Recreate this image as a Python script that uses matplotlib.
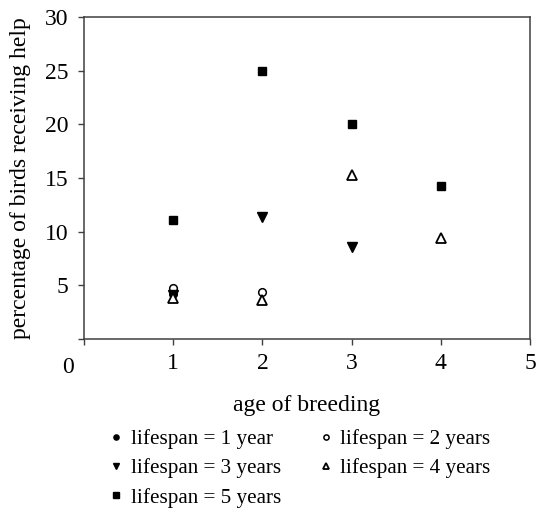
import matplotlib
matplotlib.use('Agg')
from matplotlib import pyplot as plt
import matplotlib.transforms as mtransforms

plt.rcParams['font.family'] = ['Liberation Serif', 'DejaVu Serif']

# data
ls1_x = [1]
ls1_y = [4.2]

ls2_x = [1, 2]
ls2_y = [4.75, 4.4]

ls3_x = [1, 2, 3]
ls3_y = [4.1, 11.4, 8.6]

ls4_x = [1, 2, 3, 4]
ls4_y = [3.85, 3.6, 15.3, 9.4]

ls5_x = [1, 2, 3, 4]
ls5_y = [11.1, 25.0, 20.0, 14.3]

labels = ['lifespan = 1 year', 'lifespan = 2 years', 'lifespan = 3 years',
          'lifespan = 4 years', 'lifespan = 5 years']

fig = plt.figure(figsize=(5.39, 5.12), dpi=100)
ax = fig.add_axes([84 / 539, 1 - 339 / 512, 446 / 539, 322 / 512])

h1, = ax.plot(ls1_x, ls1_y, 'o', color='black', ms=5.5, label=labels[0])
h2, = ax.plot(ls2_x, ls2_y, 'o', mfc='white', mec='black', mew=1.1, ms=5.5, label=labels[1])
h3, = ax.plot(ls3_x, ls3_y, 'v', color='black', ms=7, label=labels[2])
h4, = ax.plot(ls4_x, ls4_y, '^', mfc='white', mec='black', mew=1.3, ms=6.5, label=labels[3])
h5, = ax.plot(ls5_x, ls5_y, 's', color='black', ms=5.5, label=labels[4])

ax.set_xlim(0, 5)
ax.set_ylim(0, 30)
ax.set_xticks([0, 1, 2, 3, 4, 5])
ax.set_xticklabels(['', '1', '2', '3', '4', '5'])
ax.set_yticks([0, 5, 10, 15, 20, 25, 30])
ax.set_yticklabels(['', '5', '10', '15', '20', '25', '30'])
ax.tick_params(labelsize=17, length=4, width=1, color='#404040', direction='out', pad=7)
ax.tick_params(axis='x', pad=6)
for s in ax.spines.values():
    s.set_color('#404040')
    s.set_linewidth(1.1)

trans = mtransforms.blended_transform_factory(ax.transData, ax.transAxes)
ax.text(-0.18, -0.055, '0', transform=trans, ha='center', va='top', fontsize=17)

ax.set_xlabel('age of breeding', fontsize=17, labelpad=15)
ax.set_ylabel('percentage of birds receiving help', fontsize=17, labelpad=10)

fig.legend([h1, h3, h5, h2, h4],
           [labels[0], labels[2], labels[4], labels[1], labels[3]],
           ncol=2, loc='upper left', bbox_to_anchor=(91 / 539, 1 - 410 / 512),
           frameon=False, fontsize=15.2, markerscale=0.68, handlelength=0.6,
           handletextpad=0.4, columnspacing=1.8, labelspacing=0.45)

fig.savefig('out.png', dpi=100)
